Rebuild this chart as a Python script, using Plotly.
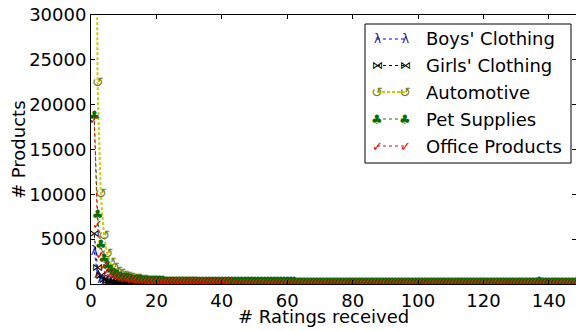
import plotly.graph_objects as go

# ---------------- data ----------------
series_names = ["Boys' Clothing", "Girls' Clothing", "Automotive", "Pet Supplies", "Office Products"]

boys_clothing = [3600, 1000, 470, 275, 180, 127, 94, 72, 57, 46,
                 38, 32, 27, 23, 20, 17, 15, 13, 12, 11,
                 10, 9, 8, 7, 7, 6, 6, 5, 5, 4,
                 4, 4, 4, 3, 3, 3, 3, 3, 2, 2,
                 2, 2, 2, 2, 2, 2, 1, 1, 1, 1]

girls_clothing = [5500, 1750, 820, 460, 295, 205, 150, 114, 89, 71,
                  58, 48, 40, 34, 29, 25, 22, 19, 17, 15,
                  14, 12, 11, 10, 9, 9, 8, 7, 7, 6,
                  6, 5, 5, 5, 4, 4, 4, 4, 3, 3,
                  3, 3, 3, 3, 2, 2, 2, 2, 2, 2]

automotive = [95000, 22400, 10000, 5300, 3300, 2300, 1700, 1320, 1060, 870,
              730, 620, 535, 465, 410, 364, 326, 294, 266, 243,
              222, 204, 189, 175, 163, 152, 142, 134, 126, 119,
              113, 107, 102, 97, 93, 89, 85, 82, 79, 76,
              73, 71, 68, 66, 64, 62, 60, 59, 57, 56,
              54, 53, 52, 50, 49, 48, 47, 46, 45, 44,
              43, 42, 42, 41, 40, 39, 39, 38, 37, 37,
              36, 36, 35, 35, 34, 34, 33, 33, 32, 32,
              31, 31, 31, 30, 30, 29, 29, 29, 28, 28,
              28, 27, 27, 27, 27, 26, 26, 26, 25, 25,
              25, 25, 24, 24, 24, 24, 23, 23, 23, 23,
              23, 22, 22, 22, 22, 22, 21, 21, 21, 21,
              21, 21, 20, 20, 20, 20, 20, 20, 19, 19,
              19, 19, 19, 19, 19, 18, 18, 18, 18, 18,
              18, 18, 17, 17, 17, 17, 17, 17]

pet_supplies = [18700, 7600, 4300, 2750, 1950, 1450, 1130, 910, 750, 630,
                540, 470, 415, 372, 336, 306, 281, 259, 241, 225,
                211, 199, 188, 179, 171, 163, 157, 151, 145, 140,
                136, 132, 128, 125, 122, 119, 116, 114, 112, 110,
                108, 106, 104, 103, 101, 100, 99, 97, 96, 95,
                94, 93, 92, 91, 90, 89, 89, 88, 87, 86,
                86, 85, 84, 84, 83, 82, 82, 81, 81, 80,
                80, 79, 79, 78, 78, 77, 77, 76, 76, 76,
                75, 75, 74, 74, 74, 73, 73, 73, 72, 72,
                72, 71, 71, 71, 70, 70, 70, 69, 69, 69,
                69, 68, 68, 68, 68, 67, 67, 67, 67, 66,
                66, 66, 66, 65, 65, 65, 65, 65, 64, 64,
                64, 64, 64, 63, 63, 63, 63, 63, 62, 62,
                62, 62, 62, 62, 61, 61, 110, 61, 61, 61,
                60, 60, 60, 60, 60, 60, 59, 59]

office_products = [18200, 6500, 3100, 1950, 1400, 1060, 840, 690, 580, 495,
                   430, 378, 337, 302, 274, 250, 230, 213, 198, 185,
                   174, 164, 155, 147, 140, 134, 128, 123, 118, 114,
                   110, 107, 104, 101, 98, 96, 94, 92, 90, 88,
                   86, 85, 83, 82, 81, 80, 79, 78, 77, 76,
                   75, 74, 73, 72, 72, 71, 70, 70, 69, 68,
                   68, 67, 67, 66, 66, 65, 65, 64, 64, 63,
                   63, 63, 62, 62, 61, 61, 61, 60, 60, 60,
                   59, 59, 59, 58, 58, 58, 58, 57, 57, 57,
                   57, 56, 56, 56, 56, 55, 55, 55, 55, 55,
                   54, 54, 54, 54, 54, 53, 53, 53, 53, 53,
                   53, 52, 52, 52, 52, 52, 52, 51, 51, 51,
                   51, 51, 51, 51, 50, 50, 50, 50, 50, 50,
                   50, 49, 49, 49, 49, 49, 49, 49, 49, 48,
                   48, 48, 48, 48, 48, 48, 48, 47]

x_ticks = [0, 20, 40, 60, 80, 100, 120, 140]
y_ticks = [0, 5000, 10000, 15000, 20000, 25000, 30000]
y_tick_labels = ["0", "5000", "10000", "15000", "20000", "25000", "30000"]
x_title = "# Ratings received"
y_title = "# Products"

# ---------------- styles ----------------
W, H = 576, 331
L, R, T, B = 91, 0, 15, 47
FONT = "DejaVu Sans"

styles = [
    dict(glyph="λ", mcolor="#1a1aa0", lcolor="#0000ff", dash="dot", lw=1.0, msize=12),
    dict(glyph="⋈", mcolor="#000000", lcolor="#000000", dash="dot", lw=1.0, msize=11),
    dict(glyph="↺", mcolor="#7f7f10", lcolor="#cccc00", dash="3px,2px", lw=2.0, msize=14),
    dict(glyph="♣", mcolor="#007000", lcolor="#008000", dash="dot", lw=1.0, msize=13),
    dict(glyph="✓", mcolor="#e00000", lcolor="#ff0000", dash="dot", lw=1.0, msize=13),
]
data = [boys_clothing, girls_clothing, automotive, pet_supplies, office_products]

fig = go.Figure()
for name, vals, st in zip(series_names, data, styles):
    xs = list(range(1, len(vals) + 1))
    fig.add_trace(go.Scatter(
        x=xs, y=vals, name=name, mode="lines+text",
        text=[st["glyph"]] * len(vals), textposition="middle center",
        textfont=dict(family=FONT, size=st["msize"], color=st["mcolor"]),
        line=dict(color=st["lcolor"], dash=st["dash"], width=st["lw"]),
        cliponaxis=True, showlegend=False, hoverinfo="skip"))

# ---------------- custom legend ----------------
pw, ph = W - L - R, H - T - B
def px(xp):
    return (xp - L) / pw
def py(yp):
    return (H - B - yp) / ph

shapes = [dict(type="rect", xref="paper", yref="paper",
               x0=px(365), x1=px(571), y0=py(24), y1=py(163),
               line=dict(color="black", width=1), fillcolor="white", layer="above")]
annotations = []
rows_y = [39, 65.5, 92, 119, 146]
for name, st, yy in zip(series_names, styles, rows_y):
    shapes.append(dict(type="line", xref="paper", yref="paper",
                       x0=px(377), x1=px(405), y0=py(yy), y1=py(yy),
                       line=dict(color=st["lcolor"], dash=st["dash"], width=st["lw"]),
                       layer="above"))
    for gx in (377, 405):
        annotations.append(dict(xref="paper", yref="paper", x=px(gx), y=py(yy),
                                text=st["glyph"], showarrow=False,
                                xanchor="center", yanchor="middle",
                                font=dict(family=FONT, size=st["msize"], color=st["mcolor"])))
    annotations.append(dict(xref="paper", yref="paper", x=px(424), y=py(yy),
                            text=name, showarrow=False, xanchor="left", yanchor="middle",
                            font=dict(family=FONT, size=18, color="black")))

# axis titles
annotations.append(dict(xref="paper", yref="paper", x=px(323), y=py(316),
                        text=x_title, showarrow=False, xanchor="center", yanchor="middle",
                        font=dict(family=FONT, size=18, color="black")))
annotations.append(dict(xref="paper", yref="paper", x=px(18), y=py(150),
                        text=y_title, showarrow=False, xanchor="center", yanchor="middle",
                        textangle=-90,
                        font=dict(family=FONT, size=18, color="black")))

fig.update_layout(
    width=W, height=H,
    margin=dict(l=L, r=R, t=T, b=B, pad=0, autoexpand=False),
    plot_bgcolor="white", paper_bgcolor="white",
    font=dict(family=FONT, size=18, color="black"),
    shapes=shapes, annotations=annotations,
    xaxis=dict(range=[0, 148.3], tickvals=x_ticks, ticks="inside", ticklen=4,
               tickcolor="black", showline=True, linecolor="black", linewidth=1,
               mirror="ticks", showgrid=False, zeroline=False, automargin=False),
    yaxis=dict(range=[0, 30000], tickvals=y_ticks, ticktext=y_tick_labels,
               ticks="inside", ticklen=4,
               tickcolor="black", showline=True, linecolor="black", linewidth=1,
               mirror="ticks", showgrid=False, zeroline=False, automargin=False),
)

fig.write_html("out.html", config={"displayModeBar": False},
               post_script="document.body.style.margin='0';document.body.style.overflow='hidden';")
